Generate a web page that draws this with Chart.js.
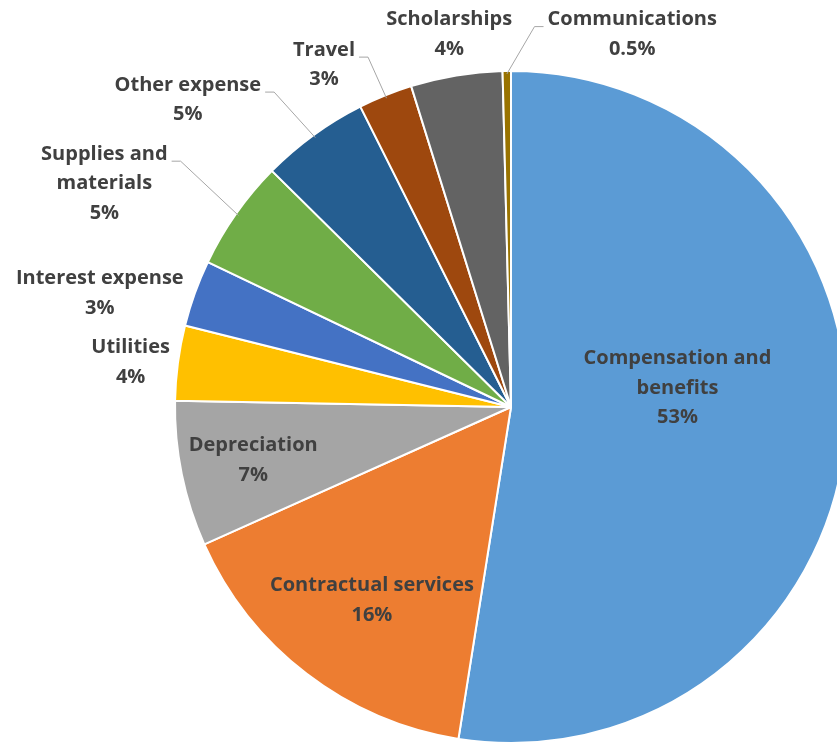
<!DOCTYPE html>
<html>
<head>
<meta charset="utf-8">
<script src="https://cdn.jsdelivr.net/npm/chart.js@4.4.1/dist/chart.umd.min.js"></script>
<style>
  html, body { margin: 0; padding: 0; background: #fff; overflow: hidden; }
  #wrap { position: relative; width: 837px; height: 742px; overflow: hidden; }
  #myChart { position: absolute; left: 0; top: 0; }
</style>
</head>
<body>
<div id="wrap"><canvas id="myChart" width="1022" height="814"></canvas></div>
<script>
// slices, clockwise from 12 o'clock
var categories = [
    ['Compensation and', 'benefits'],
    ['Contractual services'],
    ['Depreciation'],
    ['Utilities'],
    ['Interest expense'],
    ['Supplies and', 'materials'],
    ['Other expense'],
    ['Travel'],
    ['Scholarships'],
    ['Communications']
];
var shares = [52.5, 15.8, 7.0, 3.6, 3.2, 5.3, 5.2, 2.6, 4.4, 0.4];
var shareLabels = ['53%', '16%', '7%', '4%', '3%', '5%', '5%', '3%', '4%', '0.5%'];
var colors = ['#5B9BD5', '#ED7D31', '#A5A5A5', '#FFC000', '#4472C4', '#70AD47', '#255E91', '#9E480E', '#636363', '#997300'];

// where each data label sits: r = fraction of radius along the slice middle, then a nudge
var labelLayout = [
    { r: 0.5,  dx: -1,   dy: -32 },
    { r: 0.72, dx: 8,    dy: 1 },
    { r: 0.78, dx: -1,   dy: 1 },
    { r: 1.13, dx: -4,   dy: 5 },
    { r: 1.13, dx: -54,  dy: 15 },
    { r: 1.13, dx: -96,  dy: -5,  leader: 'right' },
    { r: 1.13, dx: -100, dy: 0,   leader: 'right' },
    { r: 1.13, dx: -45,  dy: 10,  leader: 'right' },
    { r: 1.13, dx: 0,    dy: 2 },
    { r: 1.13, dx: 126,  dy: 7,   leader: 'left' }
];

var pieLabels = {
    id: 'pieLabels',
    afterDatasetsDraw: function (chart) {
        var ctx = chart.ctx;
        var arcs = chart.getDatasetMeta(0).data;
        var lineH = 29.5;
        ctx.save();
        ctx.font = 'bold 20px "Open Sans", Lato, sans-serif';
        ctx.textAlign = 'center';
        ctx.textBaseline = 'middle';
        arcs.forEach(function (arc, i) {
            var p = arc.getProps(['x', 'y', 'startAngle', 'endAngle', 'outerRadius'], true);
            var mid = (p.startAngle + p.endAngle) / 2;
            var lay = labelLayout[i];
            var cx = p.x + Math.cos(mid) * p.outerRadius * lay.r + lay.dx;
            var cy = p.y + Math.sin(mid) * p.outerRadius * lay.r + lay.dy;
            var lines = categories[i].concat([shareLabels[i]]);
            var top = cy - (lines.length - 1) * lineH / 2;

            if (lay.leader) {
                var w = ctx.measureText(lines[0]).width;
                var ly = top + 7;
                var sx = lay.leader === 'right' ? cx + w / 2 + 4 : cx - w / 2 - 4;
                var hx = lay.leader === 'right' ? sx + 9 : sx - 9;
                var ex = p.x + Math.cos(mid) * (p.outerRadius - 3);
                var ey = p.y + Math.sin(mid) * (p.outerRadius - 3);
                ctx.strokeStyle = '#a6a6a6';
                ctx.lineWidth = 1;
                ctx.beginPath();
                ctx.moveTo(sx, ly);
                ctx.lineTo(hx, ly);
                ctx.lineTo(ex, ey);
                ctx.stroke();
            }

            ctx.fillStyle = '#404040';
            lines.forEach(function (t, k) {
                ctx.fillText(t, cx, top + k * lineH);
            });
        });
        ctx.restore();
    }
};

var ctx = document.getElementById('myChart').getContext('2d');
var chart = new Chart(ctx, {
    type: 'pie',
    data: {
        labels: categories,
        datasets: [{
            data: shares,
            backgroundColor: colors,
            borderColor: '#ffffff',
            borderWidth: 2
        }]
    },
    options: {
        responsive: false,
        animation: false,
        radius: 336,
        layout: { padding: { left: 175, right: 175, top: 71, bottom: 71 } },
        plugins: {
            legend: { display: false },
            tooltip: { enabled: false }
        }
    },
    plugins: [pieLabels]
});
</script>
</body>
</html>
